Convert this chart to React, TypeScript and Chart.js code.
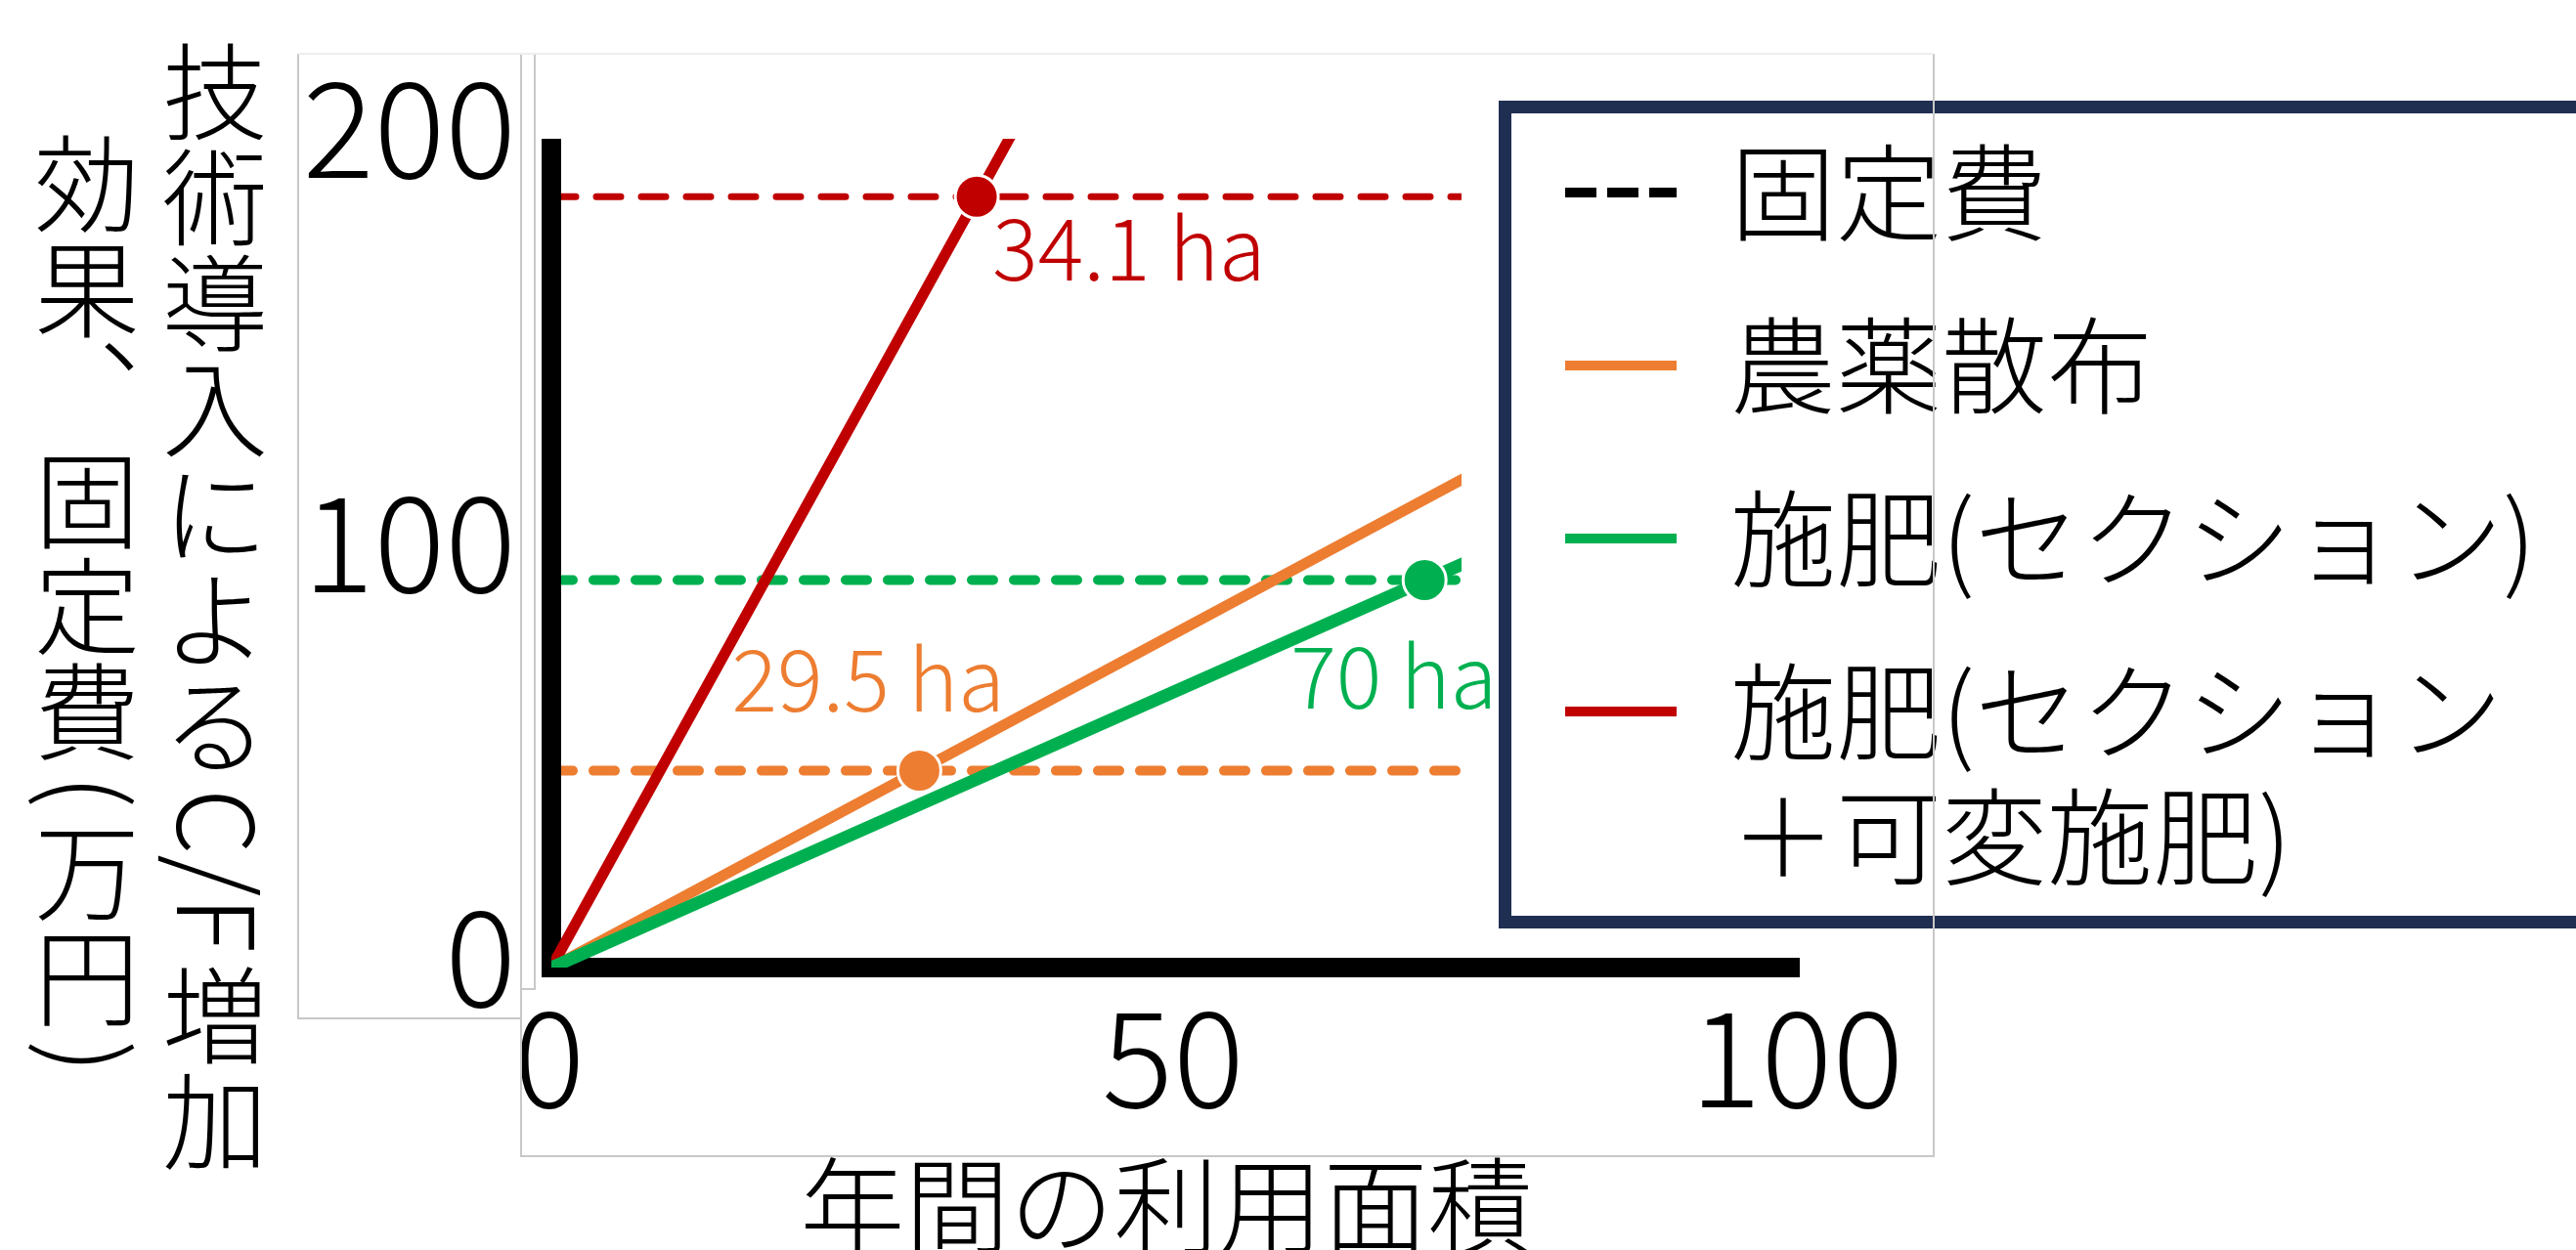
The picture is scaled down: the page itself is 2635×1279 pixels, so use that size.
import React, { useEffect, useRef } from 'react';
import { Chart, registerables } from 'chart.js';

Chart.register(...registerables);

// ---------------- data ----------------
const seriesLabels = ['農薬散布', '施肥(セクション)', '施肥(セクション\n＋可変施肥)'];
const fixedCost = [47.5, 93.5, 186]; // 固定費 (万円)
const breakEvenArea = [29.5, 70, 34.1]; // 損益分岐面積 (ha)
const effectLineX = [
  [0, 75],
  [0, 75],
  [0, 40],
];
const effectLineY = [
  [0, 121],
  [0, 100],
  [0, 218],
];
const fixedLineX = [0, 100];
const xTicks = [0, 50, 100];
const yTicks = [0, 100, 200];
const fixedCostLabel = '固定費';
const xTitle = '年間の利用面積';
const yTitleColumns = ['技術導入によるC/F増加', '効果、固定費(万円)'];
const areaUnit = 'ha';

// ---------------- styles ----------------
const FONT = '"Noto Sans CJK JP", "Noto Sans", sans-serif';
const WEIGHT = '300';
const seriesColors = ['#ED7D31', '#00B050', '#C00000'];
const solidWidths = [11, 13, 11];
const dashWidths = [10, 10, 7];
const dashPatterns = [
  [22, 21],
  [22, 21],
  [25, 21],
];
const labelOffsets = [
  { dx: -192, dy: -61 },
  { dx: -137, dy: 131 },
  { dx: 16, dy: 86 },
];
const W = 2635;
const H = 1279;

function drawVertical(ctx: CanvasRenderingContext2D, text: string, cx: number, top: number, size: number) {
  ctx.save();
  ctx.fillStyle = '#000';
  ctx.font = `${WEIGHT} ${size}px ${FONT}`;
  const pitch = size;
  const extra = 0.2 * size;
  let y = top;
  const runs = text.match(/[\x20-\x7e]+|[^\x20-\x7e]/g) || [];
  for (const r of runs) {
    if (/^[\x20-\x7e]+$/.test(r)) {
      const w = ctx.measureText(r).width;
      ctx.save();
      ctx.translate(cx, y + extra / 2);
      ctx.rotate(Math.PI / 2);
      ctx.textAlign = 'left';
      ctx.textBaseline = 'alphabetic';
      ctx.fillText(r, 0, size * 0.365);
      ctx.restore();
      y += w + extra;
    } else {
      ctx.textAlign = 'center';
      ctx.textBaseline = 'alphabetic';
      if (r === '、') {
        ctx.fillText(r, cx + 0.61 * size, y + 0.88 * size - 0.66 * size);
      } else {
        ctx.fillText(r, cx, y + 0.88 * size);
      }
      y += pitch;
    }
  }
  ctx.restore();
}

const axisBarPlugin = {
  id: 'axisBar',
  beforeDatasetsDraw(chart: any) {
    const ctx: CanvasRenderingContext2D = chart.ctx;
    const { left, top, bottom } = chart.chartArea;
    ctx.save();
    ctx.fillStyle = '#000';
    ctx.fillRect(left - 10, top, 20, bottom - top);
    ctx.restore();
  },
};

const overlayPlugin = {
  id: 'overlay',
  afterDraw(chart: any) {
    const ctx: CanvasRenderingContext2D = chart.ctx;
    const xs = chart.scales.x;
    const ys = chart.scales.y;
    ctx.save();

    // white background of the legend picture (hides line ends)
    ctx.fillStyle = '#ffffff';
    ctx.fillRect(1495, 60, W - 1495, 908);

    // break-even labels
    ctx.font = `${WEIGHT} 87px ${FONT}`;
    ctx.textAlign = 'left';
    ctx.textBaseline = 'alphabetic';
    breakEvenArea.forEach((a, i) => {
      const px = xs.getPixelForValue(a);
      const py = ys.getPixelForValue(fixedCost[i]);
      ctx.fillStyle = seriesColors[i];
      ctx.fillText(`${a} ${areaUnit}`, px + labelOffsets[i].dx, py + labelOffsets[i].dy);
    });

    // legend box
    ctx.strokeStyle = '#1F2F52';
    ctx.lineWidth = 13;
    ctx.setLineDash([]);
    ctx.strokeRect(1539.5, 109.5, 1300, 834);

    const legendSize = 108;
    ctx.font = `${WEIGHT} ${legendSize}px ${FONT}`;
    ctx.fillStyle = '#000';
    const items = [{ label: fixedCostLabel, color: '#000', dashed: true }].concat(
      seriesLabels.map((l, i) => ({ label: l, color: seriesColors[i], dashed: false }))
    );
    let base = 238;
    items.forEach((it) => {
      ctx.beginPath();
      ctx.lineWidth = 10;
      ctx.lineCap = 'butt';
      ctx.strokeStyle = it.color;
      ctx.setLineDash(it.dashed ? [32, 11] : []);
      ctx.moveTo(1601, base - 41);
      ctx.lineTo(1715, base - 41);
      ctx.stroke();
      ctx.setLineDash([]);
      const lines = it.label.split('\n');
      lines.forEach((ln, k) => {
        ctx.fillStyle = '#000';
        ctx.fillText(ln, 1770, base + k * 128);
      });
      base += 177 + (lines.length - 1) * 128;
    });

    // y title (vertical, two columns)
    drawVertical(ctx, yTitleColumns[0], 220, 40, 108);
    drawVertical(ctx, yTitleColumns[1], 89, 134, 108);

    // x title
    ctx.font = `${WEIGHT} 107px ${FONT}`;
    ctx.fillStyle = '#000';
    ctx.textAlign = 'center';
    ctx.textBaseline = 'alphabetic';
    ctx.fillText(xTitle, 1193, 1274);

    // picture frames
    ctx.lineWidth = 2;
    ctx.strokeStyle = '#c8c8c8';
    ctx.beginPath();
    ctx.moveTo(305, 55);
    ctx.lineTo(305, 1042);
    ctx.lineTo(533, 1042);
    ctx.moveTo(533, 55);
    ctx.lineTo(533, 1183);
    ctx.lineTo(1978, 1183);
    ctx.lineTo(1978, 55);
    ctx.moveTo(547, 55);
    ctx.lineTo(547, 1012);
    ctx.lineTo(533, 1012);
    ctx.stroke();
    ctx.strokeStyle = '#eeeeee';
    ctx.beginPath();
    ctx.moveTo(305, 55);
    ctx.lineTo(1978, 55);
    ctx.stroke();

    ctx.restore();
  },
};

export default function App() {
  const ref = useRef<HTMLCanvasElement | null>(null);

  useEffect(() => {
    if (!ref.current) return;
    const datasets: any[] = [];
    // break-even points
    breakEvenArea.forEach((a, i) => {
      datasets.push({
        label: seriesLabels[i] + ' 損益分岐点',
        data: [{ x: a, y: fixedCost[i] }],
        showLine: false,
        pointRadius: 22,
        pointBorderWidth: 3,
        pointBorderColor: '#ffffff',
        pointBackgroundColor: seriesColors[i],
        order: 0,
      });
    });
    // C/F effect lines
    seriesLabels.forEach((l, i) => {
      datasets.push({
        label: l,
        data: effectLineX[i].map((x, k) => ({ x, y: effectLineY[i][k] })),
        borderColor: seriesColors[i],
        borderWidth: solidWidths[i],
        borderCapStyle: 'round',
        pointRadius: 0,
        tension: 0,
        order: i === 0 ? 2 : 1,
      });
    });
    // fixed cost lines
    seriesLabels.forEach((l, i) => {
      datasets.push({
        label: fixedCostLabel + ' ' + l,
        data: fixedLineX.map((x) => ({ x, y: fixedCost[i] })),
        borderColor: seriesColors[i],
        borderWidth: dashWidths[i],
        borderDash: dashPatterns[i],
        borderCapStyle: 'round',
        pointRadius: 0,
        tension: 0,
        order: 3,
        clip: { left: -10, top: 10, right: 10, bottom: 10 },
      });
    });

    const tickFont = { family: FONT, size: 136, weight: WEIGHT };
    const chart = new Chart(ref.current, {
      type: 'line',
      data: { datasets },
      options: {
        responsive: false,
        animation: false,
        events: [],
        layout: { padding: { left: 264, top: 142, right: 795, bottom: 89 } },
        plugins: { legend: { display: false }, tooltip: { enabled: false }, title: { display: false } },
        scales: {
          x: {
            type: 'linear',
            min: xTicks[0],
            max: xTicks[xTicks.length - 1],
            afterBuildTicks: (s: any) => {
              s.ticks = xTicks.map((v) => ({ value: v }));
            },
            afterFit: (s: any) => {
              s.height = 200;
            },
            ticks: {
              font: tickFont,
              color: '#000',
              padding: 10,
              labelOffset: -2,
              maxRotation: 0,
              autoSkip: false,
            },
            grid: { display: false, drawTicks: false },
            border: { display: true, width: 20, color: '#000' },
          },
          y: {
            type: 'linear',
            min: yTicks[0],
            max: yTicks[yTicks.length - 1],
            afterBuildTicks: (s: any) => {
              s.ticks = yTicks.map((v) => ({ value: v }));
            },
            afterFit: (s: any) => {
              s.width = 300;
            },
            ticks: {
              font: tickFont,
              color: '#000',
              padding: 36,
              labelOffset: -12,
              autoSkip: false,
            },
            grid: { display: false, drawTicks: false },
            border: { display: false },
          },
        },
      },
      plugins: [axisBarPlugin, overlayPlugin],
    } as any);
    return () => chart.destroy();
  }, []);

  return (
    <div style={{ position: 'absolute', left: 0, top: 0, width: W, height: H, background: '#ffffff', overflow: 'hidden' }}>
      <canvas ref={ref} width={W} height={H} style={{ display: 'block' }} />
    </div>
  );
}
